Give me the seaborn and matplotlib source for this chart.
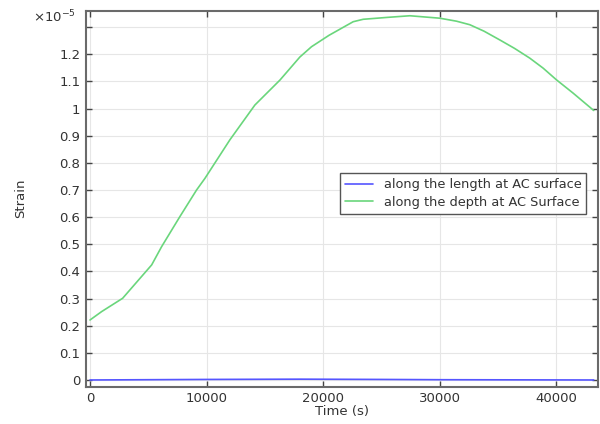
import numpy as np
import pandas as pd
import matplotlib
matplotlib.use("Agg")
import matplotlib.pyplot as plt
import seaborn as sns
from matplotlib.ticker import FuncFormatter, MultipleLocator

# Data (strain in units of 1e-5)
time_depth = [0, 1000, 2800, 5290, 6140, 7710, 9140, 9860, 12000, 14140, 16290, 18000, 19000,
              20500, 22570, 23430, 25500, 27430, 30000, 31430, 32570, 33800,
              35140, 36400, 37710, 38860, 40000, 41430, 43200]
strain_depth = [0.221, 0.252, 0.301, 0.424, 0.491, 0.602, 0.70, 0.743, 0.885, 1.013, 1.105, 1.19,
                1.228, 1.27, 1.32, 1.329, 1.336, 1.342, 1.333, 1.322, 1.309, 1.285,
                1.253, 1.222, 1.186, 1.149, 1.106, 1.057, 0.993]
time_length = [0, 5000, 10000, 18000, 25000, 30000, 43200]
strain_length = [0.0, 0.001, 0.002, 0.003, 0.002, 0.001, 0.0]
series_names = ["along the length at AC surface", "along the depth at AC Surface"]

df = pd.concat([
    pd.DataFrame({"Time": time_length, "Strain": strain_length, "series": series_names[0]}),
    pd.DataFrame({"Time": time_depth, "Strain": strain_depth, "series": series_names[1]}),
])

sns.set_theme(style="white")
plt.rcParams['font.family'] = ['DejaVu Sans']

fig = plt.figure(figsize=(6, 4.24), dpi=100)
ax = fig.add_axes([0.1433, 0.088, 0.8534, 0.887])

sns.lineplot(data=df, x="Time", y="Strain", hue="series", ax=ax,
             palette={series_names[0]: "#5555ff", series_names[1]: "#6ad67c"},
             linewidth=1.2, sort=False, estimator=None)

ax.set_xlim(-343, 43567)
ax.set_ylim(-0.0247, 1.361)
ax.xaxis.set_major_locator(MultipleLocator(10000))
ax.yaxis.set_major_locator(MultipleLocator(0.1))

def yfmt(v, pos):
    if abs(v - 1.3) < 1e-6:
        return ""
    return f"{v:.10g}" if abs(v) > 1e-9 else "0"
ax.yaxis.set_major_formatter(FuncFormatter(yfmt))
ax.xaxis.set_major_formatter(FuncFormatter(lambda v, p: f"{int(round(v))}"))

ax.grid(True, color="#e6e6e6", linewidth=0.8)
ax.set_axisbelow(True)
for s in ax.spines.values():
    s.set_color("#6a6a6a")
    s.set_linewidth(1.5)
ax.tick_params(direction="in", length=4, width=1, color="#444444",
               top=True, right=True, bottom=True, left=True,
               labelsize=9.5, labelcolor="#333333", pad=4)

ax.set_xlabel("Time (s)", fontsize=9.5, color="#333333", labelpad=0)
ax.set_ylabel("Strain", fontsize=9.5, color="#333333", labelpad=23)

ax.text(-0.02, 0.982, r"$\times10^{-5}$", transform=ax.transAxes, ha="right", va="center",
        fontsize=9.5, color="#333333")

leg = ax.legend(loc="upper right", bbox_to_anchor=(0.99, 0.585), fontsize=9.3,
                frameon=True, fancybox=False, edgecolor="#555555", framealpha=1,
                handlelength=2.2, borderpad=0.4, labelspacing=0.35, title=None)
leg.get_frame().set_linewidth(1.0)
for t in leg.get_texts():
    t.set_color("#333333")

fig.savefig("out.png", dpi=100)
